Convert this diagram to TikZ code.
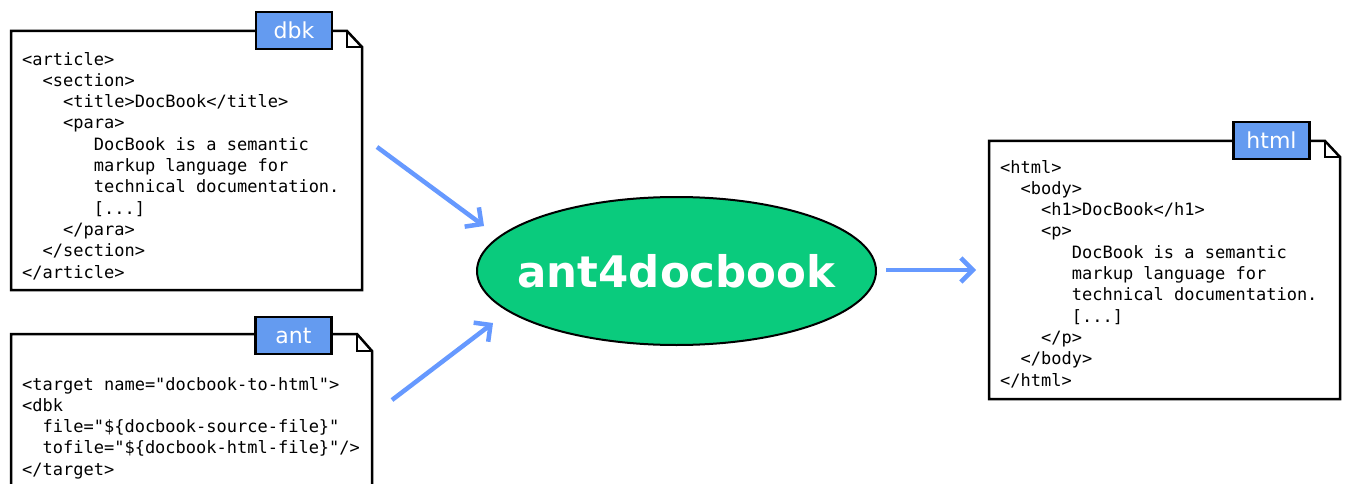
\documentclass[tikz,border=0pt]{standalone}
\usepackage{fontspec}
\setmainfont{DejaVu Sans}
\newfontfamily\codefont{DejaVu Sans Mono}
\usetikzlibrary{shapes.geometric,arrows.meta}
\definecolor{flowblue}{RGB}{102,153,255}
\definecolor{tagblue}{RGB}{100,155,240}
\definecolor{toolgreen}{RGB}{10,203,125}
\newcommand\ind[1]{\phantom{#1}}
\begin{document}
\begin{tikzpicture}[x=1pt,y=-1pt,
 docpath/.style={draw=black, line width=2.5pt, fill=white, line join=miter},
 fold/.style={draw=black, line width=2pt},
 tagbox/.style={draw=black, line width=2.5pt, fill=tagblue, text=white, font=\fontsize{22}{26}\selectfont, inner sep=0pt, minimum width=76pt, minimum height=37pt},
 code/.style={anchor=base west, inner sep=0pt, align=left, font=\fontsize{17}{21.3}\selectfont\codefont},
 flow/.style={draw=flowblue, line width=4.5pt, -{Straight Barb[length=12pt,width=24pt]}},
 tool/.style={ellipse, draw=black, line width=2pt, fill=toolgreen, minimum width=399pt, minimum height=148pt, inner sep=0pt},
 toollabel/.style={text=white, inner sep=0pt, font=\fontsize{43.5}{50}\selectfont\bfseries}]
\useasboundingbox (0,0) rectangle (1346,484);
\fill[white] (0,0) rectangle (1346,484);

% dbk document
\draw[docpath] (11,31) -- (347,31) -- (362,47) -- (362,290) -- (11,290) -- cycle;
\draw[fold] (347,31) -- (347,47) -- (362,47);
\node[tagbox] (dbktag) at (294,30.5) {dbk};
\node[code] (dbkcode) at (22,278) {<article>\\
\ind{00}<section>\\
\ind{0000}<title>DocBook</title>\\
\ind{0000}<para>\\
\ind{0000000}DocBook is a semantic\\
\ind{0000000}markup language for\\
\ind{0000000}technical documentation.\\
\ind{0000000}[...]\\
\ind{0000}</para>\\
\ind{00}</section>\\
</article>};

% ant document
\draw[docpath] (11,500) -- (11,334) -- (357,334) -- (372,351) -- (372,500);
\draw[fold] (357,334) -- (357,351) -- (372,351);
\node[tagbox] (anttag) at (293.5,335.5) {ant};
\node[code] (antcode) at (22,475.2) {<target name="docbook-to-html">\\
<dbk\\
\ind{00}file="\$\{docbook-source-file\}"\\
\ind{00}tofile="\$\{docbook-html-file\}"/>\\
</target>};

% html document
\draw[docpath] (989,141) -- (1325,141) -- (1340,157) -- (1340,399) -- (989,399) -- cycle;
\draw[fold] (1325,141) -- (1325,157) -- (1340,157);
\node[tagbox] (htmltag) at (1271.5,140.5) {html};
\node[code] (htmlcode) at (1000,386) {<html>\\
\ind{00}<body>\\
\ind{0000}<h1>DocBook</h1>\\
\ind{0000}<p>\\
\ind{0000000}DocBook is a semantic\\
\ind{0000000}markup language for\\
\ind{0000000}technical documentation.\\
\ind{0000000}[...]\\
\ind{0000}</p>\\
\ind{00}</body>\\
</html>};

% tool
\node[tool] (tool) at (676.5,271) {};
\node[toollabel] (toolname) at (tool.center) {ant4docbook};

% arrows
\coordinate (a1s) at (377,147);
\coordinate (a1e) at (484,226);
\coordinate (a2s) at (392,400);
\coordinate (a2e) at (493,323);
\coordinate (a3s) at (886,270);
\coordinate (a3e) at (976,270);
\draw[flow] (a1s) -- (a1e);
\draw[flow] (a2s) -- (a2e);
\draw[flow] (a3s) -- (a3e);
\end{tikzpicture}
\end{document}
